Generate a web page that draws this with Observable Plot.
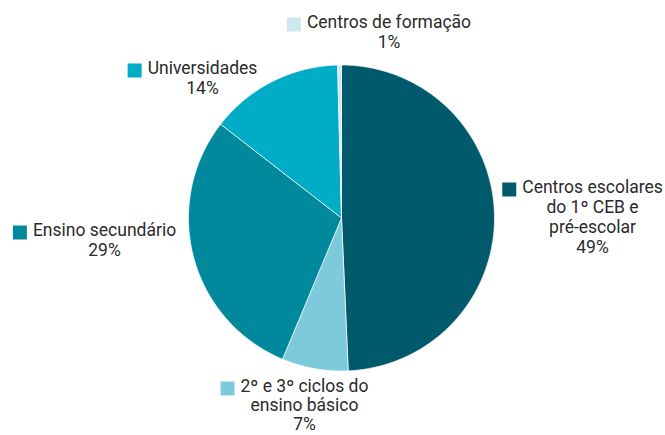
<!DOCTYPE html>
<html>
<head>
<meta charset="utf-8">
<script src="https://cdn.jsdelivr.net/npm/d3@7"></script>
<script src="https://cdn.jsdelivr.net/npm/@observablehq/plot@0.6"></script>
<style>
  html, body { margin: 0; padding: 0; background: #fff; }
</style>
</head>
<body>
<div id="chart"></div>
<script>
// ---- data ----
const categories = [
  "Centros escolares\ndo 1º CEB e\npré-escolar",
  "2º e 3º ciclos do\nensino básico",
  "Ensino secundário",
  "Universidades",
  "Centros de formação"
];
const values = [49.3, 7.0, 29.2, 14.1, 0.4];
const pctLabels = ["49%", "7%", "29%", "14%", "1%"];

// ---- styles / layout ----
const colors = ["#005a6c", "#7ccadc", "#00889c", "#00acc6", "#cde9f0"];
const W = 665, H = 435, CX = 341, CY = 217.5, R = 153;
const FONT = "Roboto", FS = 17.5;
// label block centre x, cap-top y (pixels) and line height
const labelLayout = [[592, 182, 20], [304, 381, 19.3], [104, 225, 20], [202, 63, 20], [388.5, 17, 20]];

const ctx = document.createElement("canvas").getContext("2d");
ctx.font = `${FS}px ${FONT}`;

const pie = d3.pie().sort(null).value(d => d.value).startAngle(0).endAngle(2 * Math.PI);
const rows = categories.map((c, i) => ({name: c, value: values[i], pct: pctLabels[i], color: colors[i], i}));
const arcs = pie(rows);

// polygon points (unit circle coords, y up)
const pts = [];
for (const a of arcs) {
  const n = Math.max(2, Math.ceil((a.endAngle - a.startAngle) / 0.01));
  pts.push({k: a.data.i, x: 0, y: 0, color: a.data.color});
  for (let j = 0; j <= n; j++) {
    const t = a.startAngle + (a.endAngle - a.startAngle) * j / n;
    pts.push({k: a.data.i, x: Math.sin(t), y: Math.cos(t), color: a.data.color});
  }
  pts.push({k: a.data.i, x: 0, y: 0, color: a.data.color});
}

const toX = px => (px - CX) / R;
const toY = py => (CY - py) / R;

const labels = rows.map((r, i) => {
  const [lx, ly, lh] = labelLayout[i];
  const first = r.name.split("\n")[0];
  const w = ctx.measureText(first).width;
  return {
    text: r.name + "\n" + r.pct,
    x: toX(lx), y: toY(ly - 3.5), lh: lh / FS,
    sx: toX(lx - w / 2 - 6 - 7), sy: toY(ly + 7),
    color: r.color
  };
});

const chart = Plot.plot({
  width: W, height: H,
  margin: 0,
  x: {domain: [toX(0), toX(W)], range: [0, W], axis: null},
  y: {domain: [toY(H), toY(0)], range: [H, 0], axis: null},
  style: {fontFamily: FONT, background: "#fff"},
  marks: [
    Plot.line(pts, {x: "x", y: "y", z: "k", fill: "color", stroke: "#fff", strokeWidth: 0.7, strokeLinejoin: "round", curve: "linear"}),
    Plot.dot(labels, {x: "sx", y: "sy", symbol: "square", r: 14 / Math.sqrt(Math.PI), fill: "color", stroke: null}),
    ...labels.map(l => Plot.text([l], {x: "x", y: "y", text: "text", textAnchor: "middle", lineAnchor: "top", fontSize: FS, lineHeight: l.lh, fill: "#2b2b2b"}))
  ]
});
document.getElementById("chart").appendChild(chart);
</script>
</body>
</html>
